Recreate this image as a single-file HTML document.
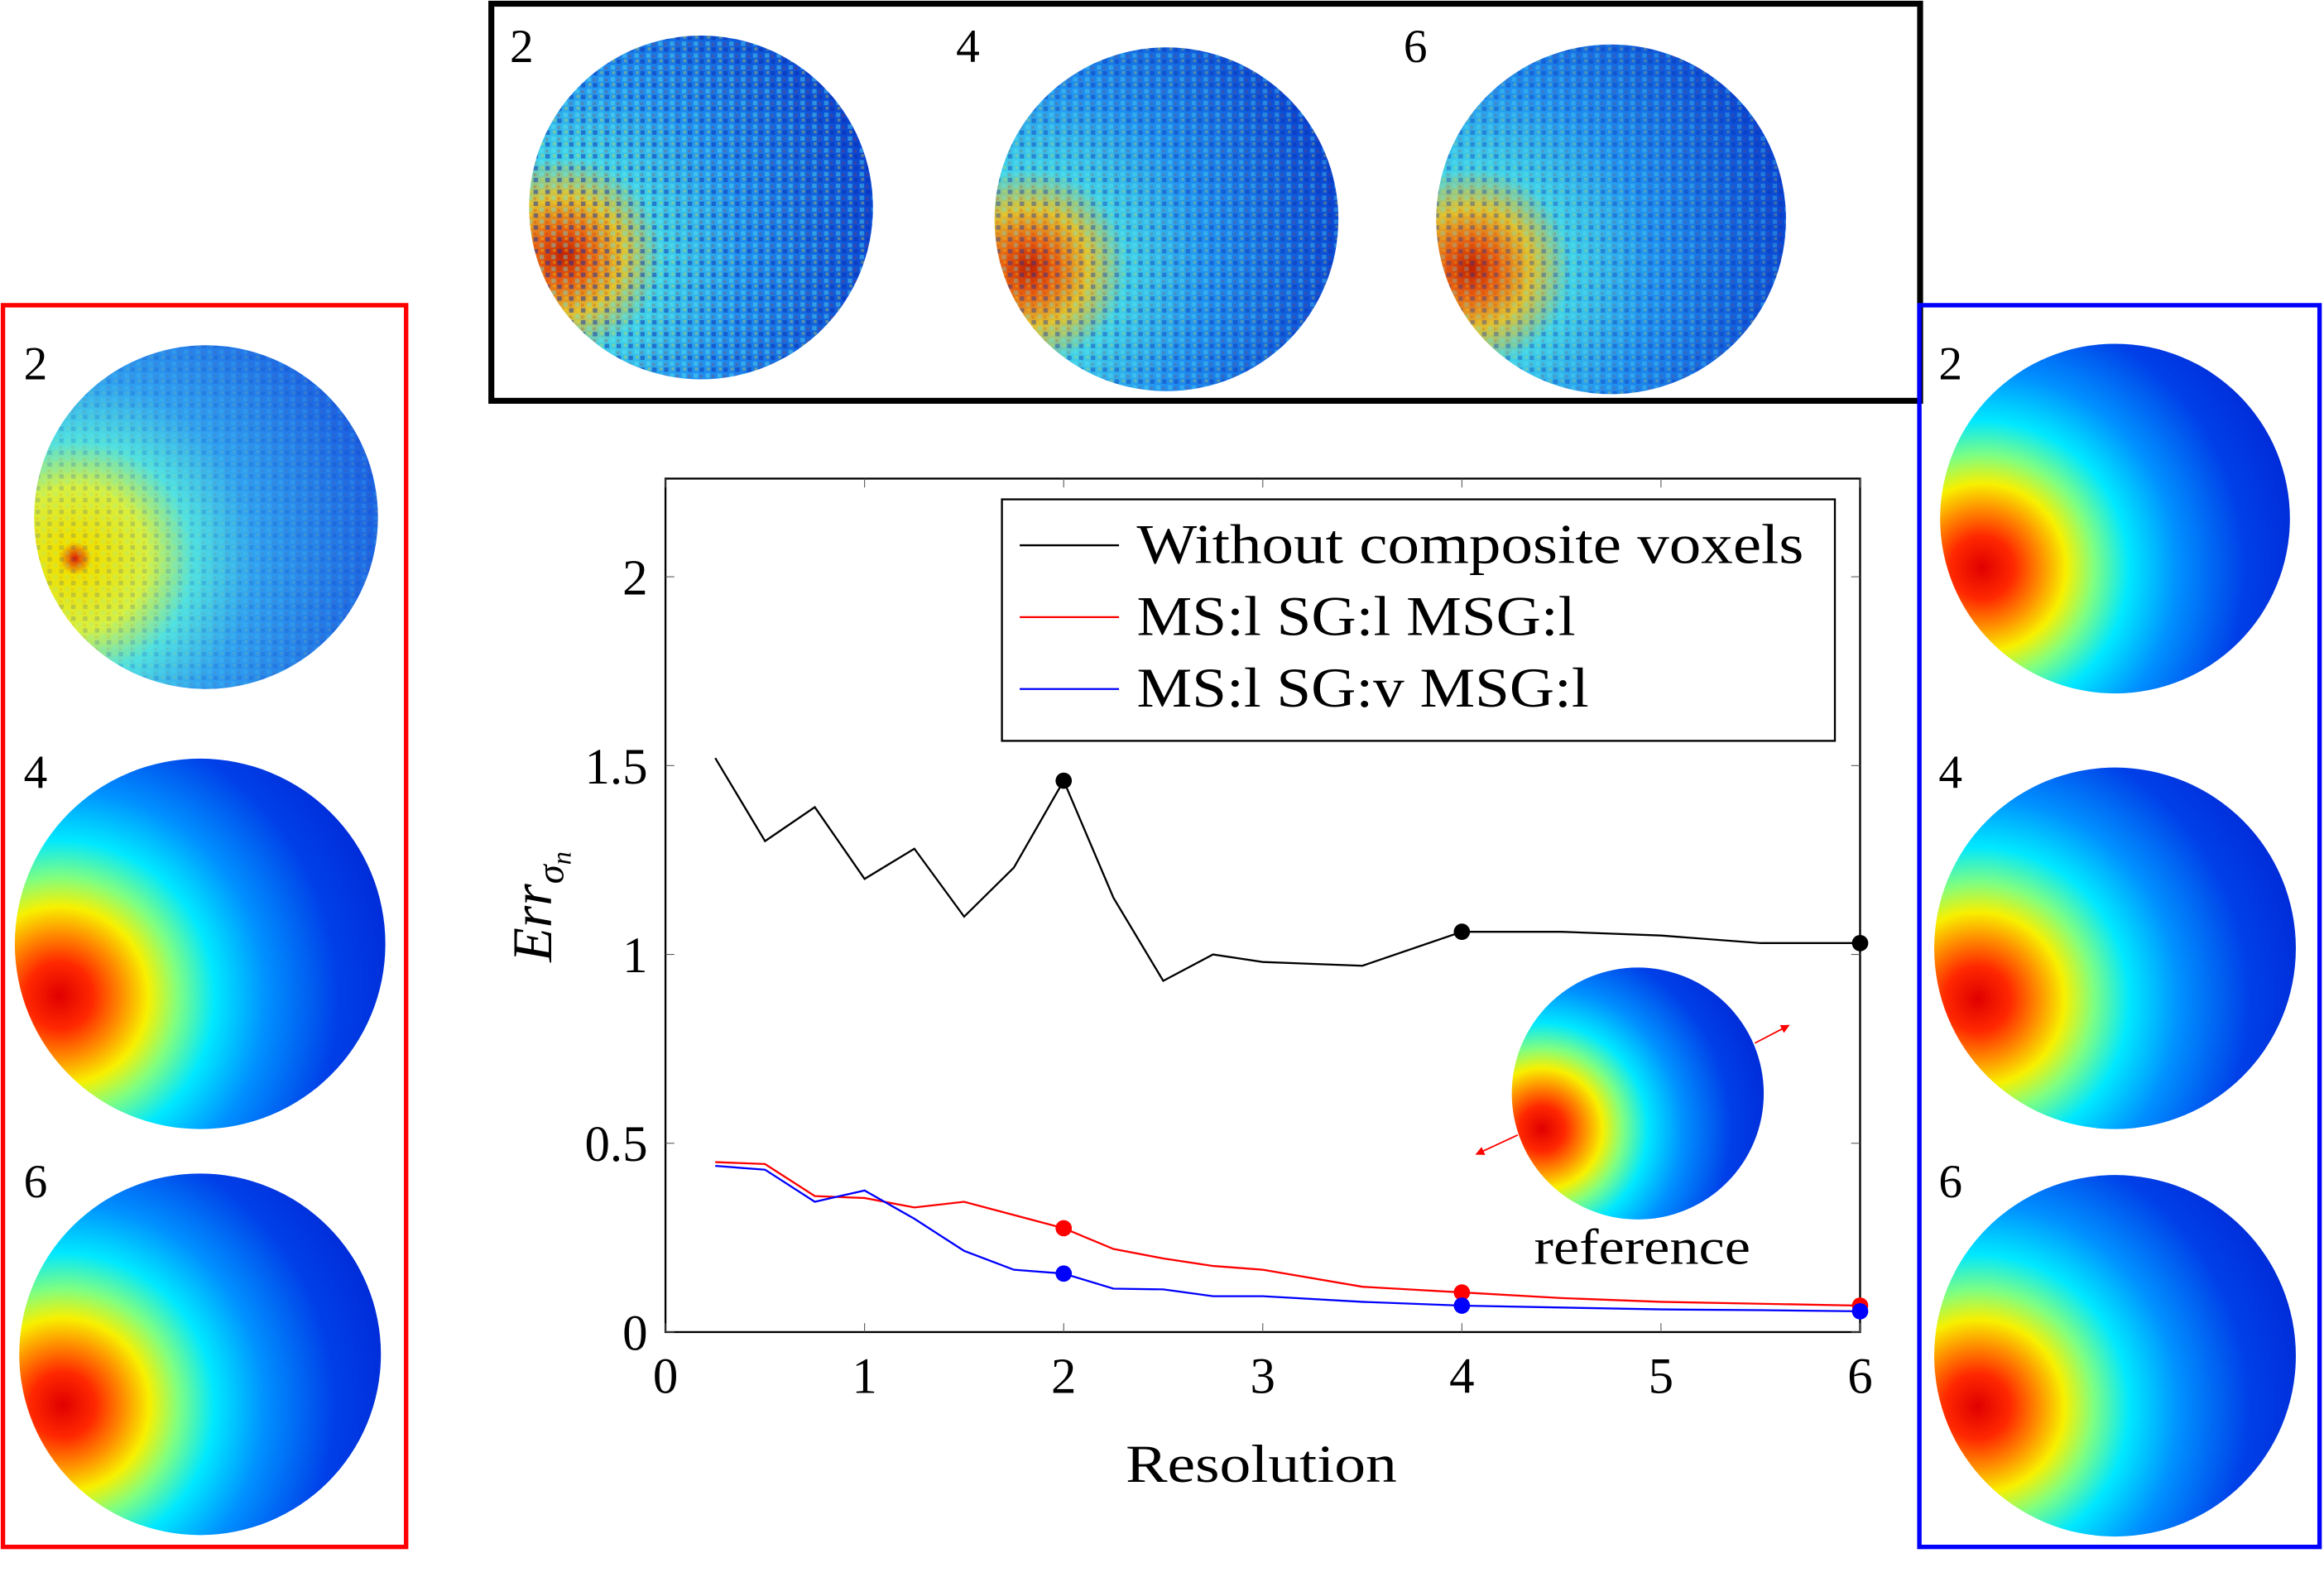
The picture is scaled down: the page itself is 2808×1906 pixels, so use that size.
<!DOCTYPE html>
<html><head><meta charset="utf-8">
<style>
html,body{margin:0;padding:0;background:#fff;}
svg{display:block;}
text{font-family:"Liberation Serif","DejaVu Serif",serif;}
</style></head>
<body>
<svg width="2808" height="1906" viewBox="0 0 1568 1064.3" preserveAspectRatio="none" font-family="Liberation Serif, serif">
<defs>
  <radialGradient id="hot" cx="0.12" cy="0.64" r="1.0" fx="0.12" fy="0.64">
    <stop offset="0" stop-color="#e00000"/>
    <stop offset="0.09" stop-color="#ff2800"/>
    <stop offset="0.17" stop-color="#ff9000"/>
    <stop offset="0.24" stop-color="#f8f000"/>
    <stop offset="0.32" stop-color="#80ff80"/>
    <stop offset="0.42" stop-color="#00e8ff"/>
    <stop offset="0.56" stop-color="#0090ff"/>
    <stop offset="0.75" stop-color="#0040e8"/>
    <stop offset="1" stop-color="#0020d0"/>
  </radialGradient>
  <radialGradient id="warm" cx="0.12" cy="0.62" r="0.95">
    <stop offset="0" stop-color="#e02000"/>
    <stop offset="0.05" stop-color="#f0e000"/>
    <stop offset="0.22" stop-color="#d8f040"/>
    <stop offset="0.36" stop-color="#50e0e0"/>
    <stop offset="0.55" stop-color="#30a0f0"/>
    <stop offset="1" stop-color="#1858e0"/>
  </radialGradient>
  <radialGradient id="noisy" cx="0.1" cy="0.64" r="0.95">
    <stop offset="0" stop-color="#c02000"/>
    <stop offset="0.08" stop-color="#e86010"/>
    <stop offset="0.18" stop-color="#e0c030"/>
    <stop offset="0.3" stop-color="#40d0e8"/>
    <stop offset="0.55" stop-color="#2090f0"/>
    <stop offset="1" stop-color="#0840d0"/>
  </radialGradient>
  <pattern id="tex" width="8" height="8" patternUnits="userSpaceOnUse">
    <rect x="0" y="0" width="3" height="3" fill="#0a2ab0" opacity="0.5"/>
    <rect x="4" y="4" width="3" height="3" fill="#60f0f0" opacity="0.4"/>
    <rect x="5" y="0" width="2" height="2" fill="#f0e020" opacity="0.35"/>
    <rect x="0" y="5" width="2" height="2" fill="#d02000" opacity="0.25"/>
  </pattern>
  <marker id="arr" viewBox="0 0 10 10" refX="9" refY="5" markerWidth="6" markerHeight="6" orient="auto-start-reverse">
    <path d="M0,0 L10,5 L0,10 z" fill="#f00"/>
  </marker>
</defs>

<!-- top box -->
<rect x="331.5" y="2.5" width="964" height="268" fill="#fff" stroke="#000" stroke-width="4"/>
<g><circle cx="473" cy="140" r="116" fill="url(#noisy)"/><circle cx="473" cy="140" r="116" fill="url(#tex)"/></g>
<g><circle cx="787" cy="148" r="116" fill="url(#noisy)"/><circle cx="787" cy="148" r="116" fill="url(#tex)" opacity="0.8"/></g>
<g><circle cx="1087" cy="148" r="118" fill="url(#noisy)"/><circle cx="1087" cy="148" r="118" fill="url(#tex)" opacity="0.7"/></g>
<text x="344" y="42" font-size="32">2</text>
<text x="645" y="42" font-size="32">4</text>
<text x="947" y="42" font-size="32">6</text>

<!-- left red box -->
<rect x="2" y="206" width="272" height="838" fill="none" stroke="#f00" stroke-width="3"/>
<g><circle cx="139" cy="349" r="116" fill="url(#warm)"/><circle cx="139" cy="349" r="116" fill="url(#tex)" opacity="0.35"/></g>
<circle cx="135" cy="637" r="125" fill="url(#hot)"/>
<circle cx="135" cy="914" r="122" fill="url(#hot)"/>
<text x="16" y="256" font-size="32">2</text>
<text x="16" y="532" font-size="32">4</text>
<text x="16" y="808" font-size="32">6</text>

<!-- right blue box -->
<rect x="1295" y="206" width="270" height="838" fill="none" stroke="#00f" stroke-width="3"/>
<circle cx="1427" cy="350" r="118" fill="url(#hot)"/>
<circle cx="1427" cy="640" r="122" fill="url(#hot)"/>
<circle cx="1427" cy="915" r="122" fill="url(#hot)"/>
<text x="1308" y="256" font-size="32">2</text>
<text x="1308" y="532" font-size="32">4</text>
<text x="1308" y="808" font-size="32">6</text>

<!-- chart -->
<g id="chart"></g>
</svg>

<script>
const xs = [0.25,0.5,0.75,1,1.25,1.5,1.75,2,2.25,2.5,2.75,3,3.5,4,4.5,5,5.5,6];
const blackVals = [1.52,1.30,1.39,1.20,1.28,1.10,1.23,1.46,1.15,0.93,1.00,0.98,0.97,1.06,1.06,1.05,1.03,1.03];
const redVals = [0.45,0.445,0.36,0.355,0.33,0.345,0.31,0.275,0.22,0.195,0.175,0.165,0.12,0.105,0.09,0.08,0.075,0.07];
const blueVals = [0.44,0.43,0.345,0.375,0.30,0.215,0.165,0.155,0.115,0.113,0.095,0.095,0.08,0.07,0.065,0.06,0.058,0.055];
const markerX = [2,4,6];
const xTicks = [0,1,2,3,4,5,6];
const yTicks = [0,0.5,1,1.5,2];
const yTickLabels = ["0","0.5","1","1.5","2"];
const legendLabels = ["Without composite voxels","MS:l SG:l MSG:l","MS:l SG:v MSG:l"];
const legendWidths = [450,296,305];

const NS="http://www.w3.org/2000/svg";
const g=document.getElementById('chart');
const L=449,R=1255,B=899,T=323,XMAX=6,YMAX=2.26;
const sx=v=>L+(v/XMAX)*(R-L);
const sy=v=>B-(v/YMAX)*(B-T);
function mk(tag,attrs,parent){const e=document.createElementNS(NS,tag);for(const k in attrs)e.setAttribute(k,attrs[k]);(parent||g).appendChild(e);return e;}

let frame=mk('rect',{x:L,y:T,width:R-L,height:B-T,fill:'none',stroke:'#000','stroke-width':1.3});



xTicks.forEach(t=>{
  mk('line',{x1:sx(t),x2:sx(t),y1:B,y2:B-6,stroke:'#555','stroke-width':0.6});
  mk('line',{x1:sx(t),x2:sx(t),y1:T,y2:T+6,stroke:'#555','stroke-width':0.6});
  const tx=mk('text',{x:sx(t),y:B+41,'font-size':34,'text-anchor':'middle'});
  tx.textContent=t;
  
  
});
yTicks.forEach((t,i)=>{
  mk('line',{x1:L,x2:L+6,y1:sy(t),y2:sy(t),stroke:'#555','stroke-width':0.6});
  mk('line',{x1:R,x2:R-6,y1:sy(t),y2:sy(t),stroke:'#555','stroke-width':0.6});
  const tx=mk('text',{x:L-12,y:sy(t)+12,'font-size':34,'text-anchor':'end'});
  tx.textContent=yTickLabels[i];
  
  
});
let xl=mk('text',{x:851,y:1000,'font-size':36,'text-anchor':'middle',textLength:183,lengthAdjust:'spacingAndGlyphs'});
xl.textContent='Resolution';


let yl=mk('text',{x:0,y:0,'font-size':38,'font-style':'italic',transform:'translate(372,612) rotate(-90)','text-anchor':'middle'});
yl.innerHTML='Err<tspan font-size="26" dy="8">σ</tspan><tspan font-size="18" dy="5">n</tspan>';



// reference sphere
let rs=mk('circle',{cx:1105,cy:738,r:85,fill:'url(#hot)'});


let a1=mk('line',{x1:1024,y1:766,x2:996,y2:779,stroke:'#f00','stroke-width':1,'marker-end':'url(#arr)'});


let a2=mk('line',{x1:1184,y1:704,x2:1207,y2:692,stroke:'#f00','stroke-width':1,'marker-end':'url(#arr)'});


let rt=mk('text',{x:1108,y:853,'font-size':34,'text-anchor':'middle',textLength:146,lengthAdjust:'spacingAndGlyphs'});
rt.textContent='reference';



const series=[[blackVals,'#000','black'],[redVals,'#f00','red'],[blueVals,'#00f','blue']];
series.forEach(([vals,col,nm])=>{
  const p=mk('polyline',{points:xs.map((x,i)=>sx(x)+','+sy(vals[i])).join(' '),fill:'none',stroke:col,'stroke-width':1.3});
  
  
  markerX.forEach(mx=>{
    const i=xs.indexOf(mx);
    const c=mk('circle',{cx:sx(mx),cy:sy(vals[i]),r:5.5,fill:col});
    
    
  });
});

// legend
const lg=mk('rect',{x:676,y:337,width:562,height:163,fill:'#fff',stroke:'#000','stroke-width':1.3});


legendLabels.forEach((lab,i)=>{
  const y=368+i*48.5;
  const col=series[i][1];
  const ln=mk('line',{x1:688,x2:755,y1:y,y2:y,stroke:col,'stroke-width':1.3});
  
  
  const t=mk('text',{x:767,y:y+12,'font-size':38,textLength:legendWidths[i],lengthAdjust:'spacingAndGlyphs'});
  t.textContent=lab;
  
  
});
</script>
</body></html>
